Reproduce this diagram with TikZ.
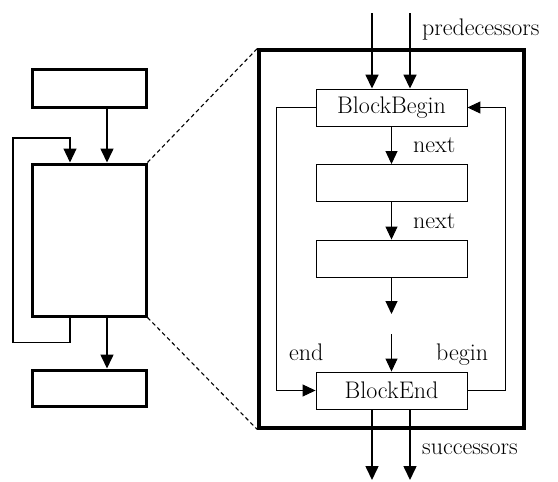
\documentclass[tikz,border=0pt]{standalone}
\usetikzlibrary{arrows.meta,calc}
\begin{document}
\begin{tikzpicture}[x=1pt,y=-1pt,
  every node/.style={font=\fontsize{24}{28}\selectfont},
  heavybox/.style={draw,line width=3pt,minimum width=114pt,inner sep=0pt},
  instr/.style={draw,line width=0.9pt,minimum width=151pt,minimum height=37pt,inner sep=0pt},
  flow/.style={line width=1.6pt,-{Triangle[length=14pt,width=13pt]}},
  link/.style={line width=1pt,-{Triangle[length=13pt,width=12pt]}},
  lbl/.style={anchor=base west,inner sep=0pt}
]
\useasboundingbox (0,0) rectangle (558,482);

% control flow graph on the left
\node[heavybox,minimum height=38pt] (ltop) at (89,88) {};
\node[heavybox,minimum height=152pt] (big) at (89,240) {};
\node[heavybox,minimum height=36pt] (lbot) at (89,388) {};

\draw[flow] ($(ltop.south)+(18,0)$) -- ($(big.north)+(18,0)$);
\draw[flow] ($(big.south)+(18,0)$) -- ($(lbot.north)+(18,0)$);
\coordinate (loopL) at (13,138);
\draw[line width=1.1pt,-{Triangle[length=14pt,width=13pt]}]
  ($(big.south)+(-19,0)$) -- ++(0,25) -| (loopL) -| ($(big.north)+(-19,0)$);

% zoomed block
\node[draw,line width=3.2pt,minimum width=265pt,minimum height=378pt,inner sep=0pt] (frame) at (391.5,239) {};
\draw[dash pattern=on 4pt off 3pt,line width=1.1pt] (big.north east) -- (frame.north west);
\draw[dash pattern=on 4pt off 3pt,line width=1.1pt] (big.south east) -- (frame.south west);

\node[instr] (bb) at (391.5,107.5) {BlockBegin};
\node[instr] (i1) at (391.5,183) {};
\node[instr] (i2) at (391.5,258.5) {};
\node[instr] (be) at (391.5,390.5) {BlockEnd};

% predecessors
\coordinate (p1) at (372,13);
\coordinate (p2) at (410,13);
\draw[flow] (p1) -- (p1 |- bb.north);
\draw[flow] (p2) -- (p2 |- bb.north);
\node[lbl] (pl) at (422,35) {predecessors};

% next links
\draw[link] (bb.south) -- (i1.north);
\node[lbl] (n1) at (413,152.5) {next};
\draw[link] (i1.south) -- (i2.north);
\node[lbl] (n2) at (413,228) {next};
\coordinate (g1) at (391.5,314);
\coordinate (g2) at (391.5,334);
\draw[link] (i2.south) -- (g1);
\draw[link] (g2) -- (be.north);

% begin / end links
\draw[link] (bb.west) -- ++(-39,0) |- (be.west);
\draw[link] (be.east) -- ++(38,0) |- (bb.east);
\node[lbl] (el) at (289,360) {end};
\node[lbl] (bl) at (436,360) {begin};

% successors
\coordinate (s1) at (372,480);
\coordinate (s2) at (410,480);
\draw[flow] (s1 |- be.south) -- (s1);
\draw[flow] (s2 |- be.south) -- (s2);
\node[lbl] (sl) at (422,454) {successors};
\end{tikzpicture}
\end{document}
